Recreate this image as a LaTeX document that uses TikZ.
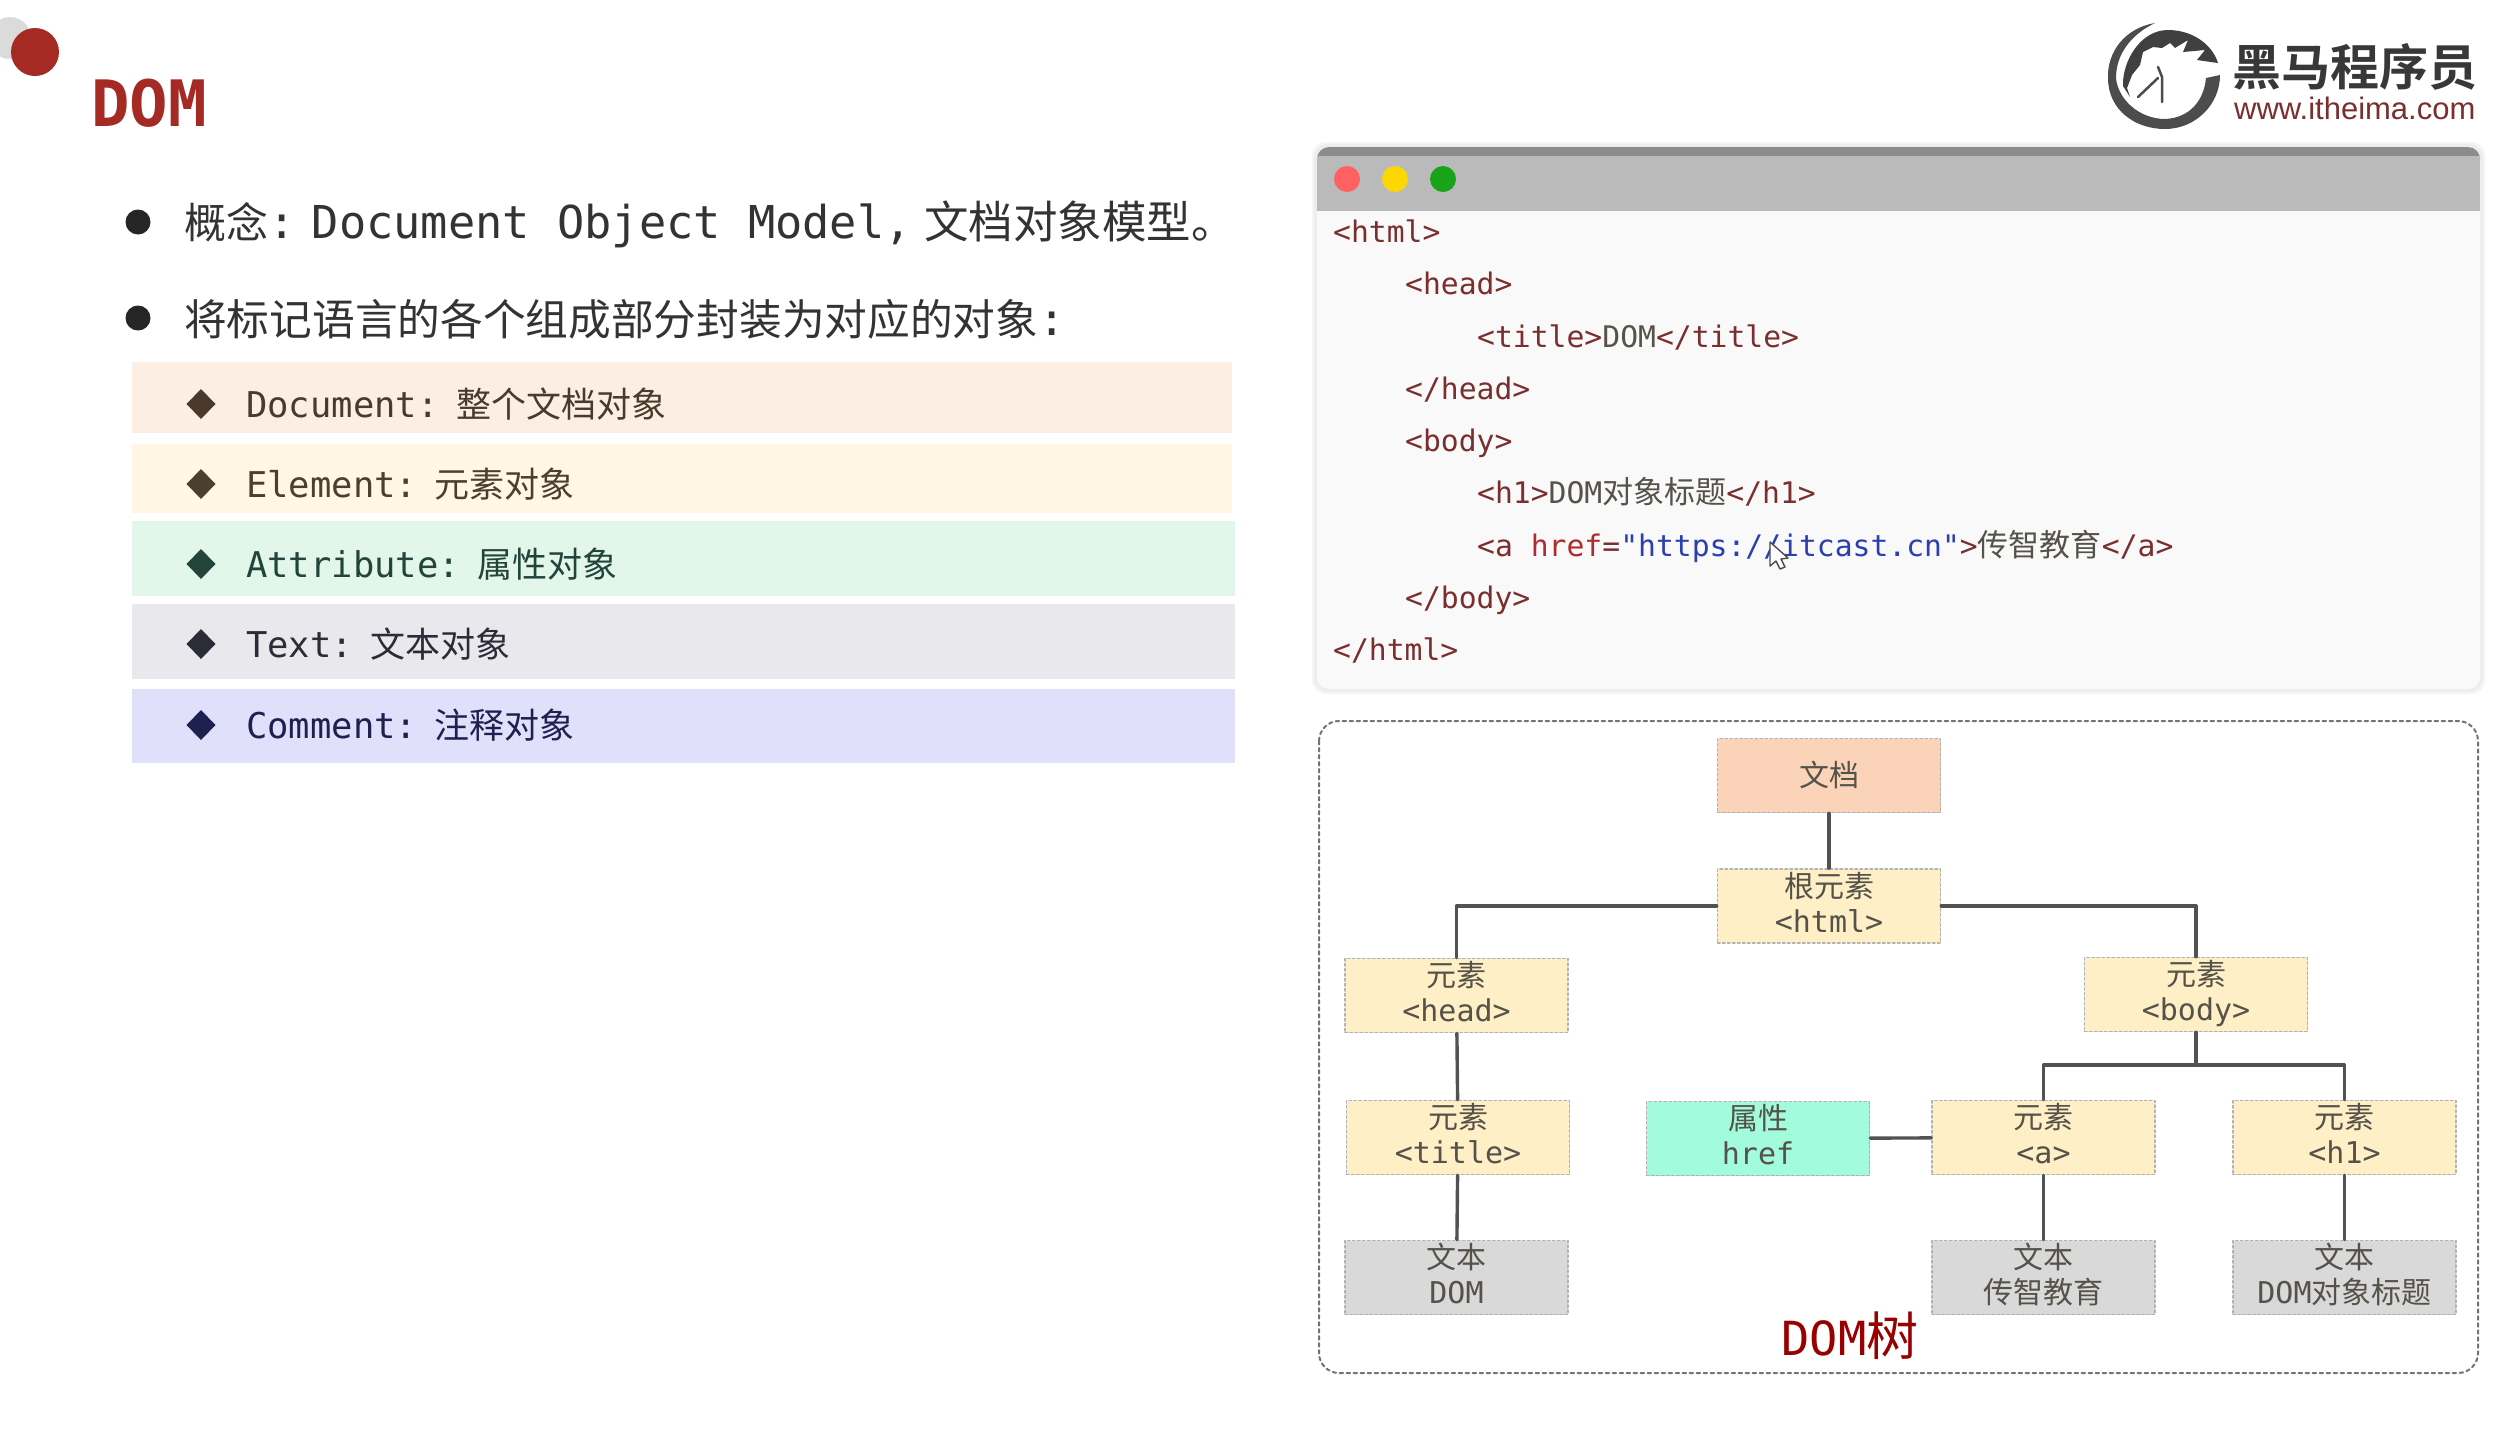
\documentclass[tikz,border=0pt]{standalone}
\usepackage{fontspec}
\setmainfont{DejaVu Sans Mono}
\newfontfamily\cjk{Noto Sans CJK SC}
\newfontfamily\cjkb{Noto Sans CJK SC Bold}
\newfontfamily\arialfont{Liberation Sans}
\newfontfamily\codefont{DejaVu Sans Mono}
\newcommand{\zh}[1]{{\cjk #1}}
\newcommand{\fsize}[1]{\fontsize{#1}{#1}\selectfont}
\definecolor{darkred}{HTML}{A52A24}
\definecolor{tagred}{HTML}{7A2E2E}
\definecolor{attrred}{HTML}{B02A30}
\definecolor{strblue}{HTML}{2B3FB0}
\definecolor{boxtext}{HTML}{55524A}
\definecolor{linegray}{HTML}{4F5353}
\definecolor{docfill}{HTML}{FBD3B8}
\definecolor{elemfill}{HTML}{FEEFC6}
\definecolor{attrfill}{HTML}{A2FBDC}
\definecolor{textfill}{HTML}{D9D9D9}
\tikzset{
	treebox/.style={draw=black!30, dash pattern=on 2.5pt off 2.5pt, line width=1.6pt, minimum width=223pt, minimum height=74pt, inner sep=0pt, align=center, text=boxtext, font=\fontsize{30}{35}\selectfont},
	twoline/.style={treebox, execute at end node={\rule[-8pt]{0pt}{8pt}}},
	elembox/.style={twoline, fill=elemfill},
	textbox/.style={twoline, fill=textfill},
	link/.style={draw=linegray, line width=3.4pt},
	codeline/.style={anchor=west, inner sep=0pt, text height=22pt, text depth=6pt, font=\fsize{29.7}\codefont, text=tagred},
	rowtext/.style={anchor=west, inner sep=0pt, font=\fsize{35.5}},
	bigtext/.style={anchor=west, inner sep=0pt, font=\fsize{45.3}, text=black!80}
}
\begin{document}
\begin{tikzpicture}[x=1pt, y=-1pt, line join=round, line cap=round]
	\path[fill=white, use as bounding box] (0,0) rectangle (2512,1433);
	% heading
	\fill[black!14] (10,38) circle (21);
	\fill[darkred] (35,52) circle (24);
	\node[anchor=west, inner sep=0pt, text=darkred] (heading) at (91,103) {\fsize{64}\bfseries DOM};
	% left column
	\fill[black!85] (138,222) circle (12.5);
	\fill[black!85] (138,318) circle (12.5);
	\node[bigtext] (concept) at (184,224) {\fsize{42}\zh{概念}\fsize{45.3}:\hspace{-20pt} Document Object Model,\hspace{-15pt} \fsize{44.5}\zh{文档对象模型。}};
	\node[bigtext] (wrap) at (184,319) {\fsize{42.7}\zh{将标记语言的各个组成部分封装为对应的对象}\fsize{45.3}:};
	\foreach \ya/\yb/\xb/\bg/\fg/\yt/\lab/\zhlab in {
		362/433/1232/FCEEE3/4A3A2C/404/Document/整个文档对象,
		444/513/1232/FFF7E3/4A4030/484/Element/元素对象,
		521/596/1235/E2F6EA/22443A/564/Attribute/属性对象,
		604/679/1235/E9E8ED/2C2C38/644/Text/文本对象,
		689/763/1235/E0E0FA/1E2050/725/Comment/注释对象}{
		\definecolor{rowbg}{HTML}{\bg}\definecolor{rowfg}{HTML}{\fg}
		\fill[rowbg] (132,\ya) rectangle (\xb,\yb);
		\fill[rowfg] ({201-14.5},\yt) -- (201,{\yt-15}) -- ({201+14.5},\yt) -- (201,{\yt+15}) -- cycle;
		\node[rowtext, text=rowfg] at (246,\yt) {\lab:\hspace{-11pt} \fsize{35}\zh{\zhlab}};
	}
	% logo
	\fill[black!70] (2155,23) .. controls (2125,28) and (2107,52) .. (2108,78) .. controls (2108,110) and (2135,129) .. (2165,129) .. controls (2195,129) and (2220,105) .. (2220,75) -- (2206,78) .. controls (2204,100) and (2190,118) .. (2165,119) .. controls (2140,119) and (2118,100) .. (2116,78) .. controls (2116,55) and (2130,35) .. cycle;
	\fill[black!75] (2123,86) .. controls (2122,62) and (2140,30) .. (2168,30) .. controls (2192,30) and (2212,44) .. (2218,63) -- (2197,60) -- (2205,50) -- (2183,52) -- (2188,40) -- (2175,48) -- (2170,43) -- (2162,48) -- (2153,47) -- (2143,52) -- (2140,65) -- (2132,75) -- (2127,88) -- (2130,97) -- cycle;
	\draw[black!70, line width=2.5pt] (2138,97) -- (2158,78) (2158,67) -- (2162,77) -- (2162,102);
	\node[anchor=west, inner sep=0pt, text=black!78] (brand) at (2232,67) {\fsize{49}\cjkb 黑马程序员};
	\node[anchor=west, inner sep=0pt, text=tagred] (site) at (2234,108) {\fsize{31}\arialfont www.itheima.com};
	% code window
	\foreach \o/\c in {5/4,3/7}{
		\fill[black!\c, rounded corners=14pt] ({1317-\o},{147-\o}) rectangle ({2480+\o},{689+\o});
	}
	\fill[black!2.5, rounded corners=12pt] (1317,147) rectangle (2480,689);
	\fill[black!45, rounded corners=12pt] (1317,147) rectangle (2480,172);
	\fill[black!27] (1317,156) rectangle (2480,211);
	\fill[red!62!white] (1347,179) circle (13);
	\fill[yellow!75!orange] (1395,179) circle (13);
	\fill[green!60!black!90!white] (1443,179) circle (13);
	\node[codeline] (l1) at (1333,234) {<html>};
	\node[codeline] (l2) at (1405,286.5) {<head>};
	\node[codeline] (l3) at (1477,339) {<title>\textcolor{boxtext}{DOM}</title>};
	\node[codeline] (l4) at (1405,391) {</head>};
	\node[codeline] (l5) at (1405,443) {<body>};
	\node[codeline] (l6) at (1477,495) {<h1>\textcolor{boxtext}{DOM\fsize{31}\zh{对象标题}}</h1>};
	\node[codeline] (l7) at (1477,548) {<a \textcolor{attrred}{href}=\textcolor{strblue}{"https://itcast.cn"}>\textcolor{boxtext}{\fsize{31}\zh{传智教育}}</a>};
	\node[codeline] (l8) at (1405,600) {</body>};
	\node[codeline] (l9) at (1333,652) {</html>};
	% cursor
	\fill[white] (1770,542) -- (1770,566) -- (1776,561) -- (1780,569) -- (1785,567) -- (1781,559) -- (1788,558) -- cycle;
	\draw[black!70, line width=1.4pt] (1770,542) -- (1770,566) -- (1776,561) -- (1780,569) -- (1785,567) -- (1781,559) -- (1788,558) -- cycle;
	% dom tree
	\draw[black!55, line width=2pt, dash pattern=on 3.5pt off 3.5pt, rounded corners=20pt] (1319,721) rectangle (2478,1373);
	\node[treebox, fill=docfill] (doc) at (1829,775.5) {\raisebox{3pt}{\zh{文档}}};
	\node[elembox] (html) at (1829,906) {\zh{根元素}\\<html>};
	\node[elembox] (head) at (1456.5,995.5) {\zh{元素}\\<head>};
	\node[elembox] (body) at (2196,994.5) {\zh{元素}\\<body>};
	\node[elembox] (title) at (1458,1137.5) {\zh{元素}\\<title>};
	\node[twoline, fill=attrfill] (attr) at (1758,1138.5) {\zh{属性}\\href};
	\node[elembox] (a) at (2043.5,1137.5) {\zh{元素}\\<a>};
	\node[elembox] (h1) at (2344.5,1137.5) {\zh{元素}\\<h1>};
	\node[textbox] (t1) at (1456.5,1277.5) {\zh{文本}\\DOM};
	\node[textbox] (t2) at (2043.5,1277.5) {\zh{文本}\\\zh{传智教育}};
	\node[textbox] (t3) at (2344.5,1277.5) {\zh{文本}\\DOM\zh{对象标题}};
	\node[inner sep=0pt, text=red!60!black] (caption) at (1850,1336) {\fsize{47}DOM\fsize{52}\zh{树}};
	\coordinate (fork) at (body.south |- 0,1065);
	\draw[link] (doc) -- (html);
	\draw[link] (html.west) -| (head.north);
	\draw[link] (html.east) -| (body.north);
	\draw[link] (head) -- (title);
	\draw[link] (title) -- (t1);
	\draw[link] (body) -- (fork);
	\draw[link] (fork) -| (a.north);
	\draw[link] (fork) -| (h1.north);
	\draw[link] (attr) -- (a);
	\draw[link] (a) -- (t2);
	\draw[link] (h1) -- (t3);
\end{tikzpicture}
\end{document}
